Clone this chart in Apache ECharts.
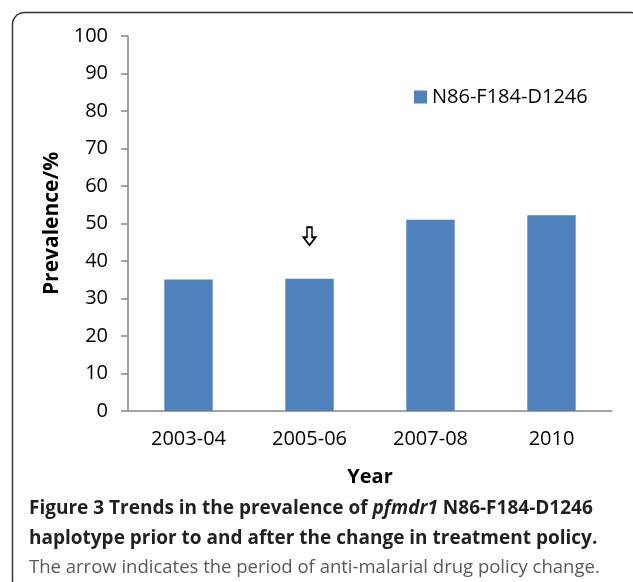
<!DOCTYPE html>
<html>
<head>
<meta charset="utf-8">
<script src="https://cdn.jsdelivr.net/npm/echarts@6/dist/echarts.min.js"></script>
<style>
html,body{margin:0;padding:0;background:#fff;}
#chart{width:633px;height:582px;}
</style>
</head>
<body>
<div id="chart"></div>
<script>
const categories = ['2003-04', '2005-06', '2007-08', '2010'];
const seriesName = 'N86-F184-D1246';
const prevalence = [35.1, 35.3, 51.0, 52.2];
const arrowCategory = '2005-06';
const arrowValue = 46.6;
const yMin = 0, yMax = 100, yStep = 10;

const chart = echarts.init(document.getElementById('chart'), null, {renderer: 'canvas'});
const font = '"Open Sans", "Liberation Sans", sans-serif';

chart.setOption({
  animation: false,
  backgroundColor: '#fff',
  textStyle: {fontFamily: font},
  grid: {left: 128, right: 21, top: 36, bottom: 171, containLabel: false},
  legend: {
    show: true,
    left: 409, top: 82,
    icon: 'rect',
    itemWidth: 13, itemHeight: 13,
    textStyle: {fontFamily: font, fontSize: 20, color: '#000'},
    data: [seriesName]
  },
  xAxis: {
    type: 'category',
    data: categories,
    name: 'Year',
    nameLocation: 'middle',
    nameGap: 56,
    nameTextStyle: {fontFamily: font, fontSize: 20, fontWeight: 'bold', color: '#000'},
    axisLine: {lineStyle: {color: '#868686', width: 1.5}},
    axisTick: {show: false},
    axisLabel: {fontFamily: font, fontSize: 20, color: '#000', margin: 18}
  },
  yAxis: {
    type: 'value',
    min: yMin, max: yMax, interval: yStep,
    name: 'Prevalence/%',
    nameLocation: 'middle',
    nameGap: 64,
    nameRotate: 90,
    nameTextStyle: {fontFamily: font, fontSize: 21, fontWeight: 'bold', color: '#000'},
    axisLine: {show: true, lineStyle: {color: '#868686', width: 1.5}},
    axisTick: {show: true, length: 7, lineStyle: {color: '#868686', width: 1.5}},
    splitLine: {show: false},
    axisLabel: {fontFamily: font, fontSize: 20, color: '#000', margin: 20}
  },
  series: [{
    name: seriesName,
    type: 'bar',
    data: prevalence,
    barWidth: '40%',
    itemStyle: {color: '#4F81BD'},
    markPoint: {
      symbol: 'path://M3.5,0 L8.5,0 L8.5,10 L12,10 L6,18 L0,10 L3.5,10 Z',
      symbolSize: [12, 18],
      symbolKeepAspect: false,
      itemStyle: {color: '#fff', borderColor: '#000', borderWidth: 1.8},
      data: [{coord: [arrowCategory, arrowValue]}],
      label: {show: false}
    }
  }],
  graphic: [
    {
      type: 'rect',
      shape: {x: 12.5, y: 12.5, width: 630, height: 580, r: 12},
      style: {fill: 'none', stroke: '#333', lineWidth: 1.5},
      silent: true, z: 100
    },
    {
      type: 'text', left: 29, top: 499, z: 100,
      style: {
        rich: {
          b: {fontFamily: font, fontSize: 19, fontWeight: 'bold', fill: '#231f20'},
          bi: {fontFamily: font, fontSize: 19, fontWeight: 'bold', fontStyle: 'italic', fill: '#231f20'}
        },
        text: '{b|Figure 3 Trends in the prevalence of }{bi|pfmdr1}{b| N86-F184-D1246}'
      }
    },
    {
      type: 'text', left: 29, top: 529, z: 100,
      style: {fontFamily: font, fontSize: 19, fontWeight: 'bold', fill: '#231f20',
        text: 'haplotype prior to and after the change in treatment policy.'}
    },
    {
      type: 'text', left: 29, top: 558, z: 100,
      style: {fontFamily: font, fontSize: 18.5, fill: '#58595b',
        text: 'The arrow indicates the period of anti-malarial drug policy change.'}
    }
  ]
});
</script>
</body>
</html>
